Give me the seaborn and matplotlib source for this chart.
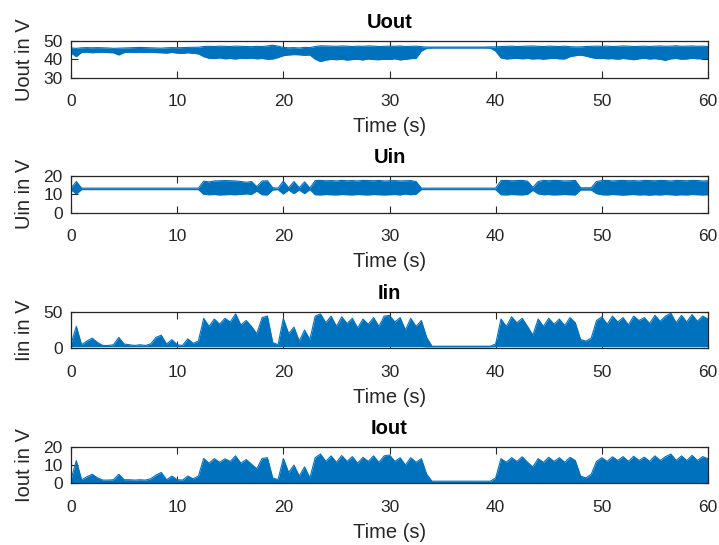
import numpy as np
import pandas as pd
import matplotlib
matplotlib.use("Agg")
import matplotlib.pyplot as plt
import seaborn as sns

# time grid (s), one reading every 0.5 s
time_s = [i * 0.5 for i in range(121)]

# Uout envelope (V)
uout_hi = [46.2,46.0,46.3,46.4,46.3,46.4,46.3,46.2,46.0,46.1,
           46.2,46.3,46.4,46.5,46.4,46.3,46.2,46.1,46.3,46.4,
           46.3,46.4,46.5,46.6,46.6,47.0,47.1,47.0,47.2,47.1,
           47.0,47.2,47.1,47.0,46.9,47.1,47.0,47.3,47.7,47.2,
           46.5,46.3,46.4,46.2,46.5,46.4,47.0,47.4,47.3,47.2,
           47.1,47.3,47.2,47.0,47.2,47.1,47.3,47.2,47.0,47.1,
           47.2,47.1,47.3,47.0,47.1,47.2,46.9,46.7,46.7,46.7,
           46.7,46.7,46.7,46.7,46.7,46.7,46.7,46.7,46.7,46.8,
           46.8,47.0,47.1,47.2,47.0,47.1,47.2,47.3,47.1,47.0,
           47.2,47.1,47.0,47.2,46.9,46.8,46.8,47.0,47.1,47.2,
           47.1,47.2,47.0,47.1,47.3,47.2,47.0,47.1,47.2,47.0,
           47.2,47.3,47.1,47.2,47.4,47.1,47.2,47.3,47.1,47.2,
           47.0]
uout_lo = [43.5,41.5,43.8,43.9,43.6,43.8,43.9,43.7,43.6,42.4,
           43.7,43.9,43.8,43.9,43.8,43.9,43.7,43.6,43.4,43.8,
           43.4,43.2,43.6,43.3,43.0,41.5,40.6,40.4,40.8,40.3,
           40.5,40.2,40.6,40.4,40.7,40.3,40.5,40.1,40.2,41.0,
           42.0,42.4,42.6,42.5,42.2,42.4,40.1,38.8,39.6,40.0,
           39.8,40.1,39.6,39.9,40.0,39.7,40.2,39.9,39.8,40.1,
           39.9,40.3,39.7,40.0,40.4,40.5,44.5,46.0,46.2,46.2,
           46.2,46.2,46.2,46.2,46.2,46.2,46.2,46.2,46.2,46.1,
           44.5,40.8,40.2,40.4,40.6,40.3,40.5,40.2,40.4,40.1,
           40.4,40.6,40.3,40.2,41.5,42.0,42.3,41.8,41.0,40.5,
           40.6,40.3,40.4,40.1,40.5,40.2,39.8,40.3,40.6,40.2,
           40.4,40.0,39.5,40.3,40.5,40.1,40.2,40.6,40.3,40.4,
           40.5]

# Uin envelope (V)
uin_hi = [13.4,17.0,13.4,13.4,13.4,13.4,13.4,13.4,13.4,13.4,
          13.4,13.4,13.4,13.4,13.4,13.4,13.4,13.4,13.4,13.4,
          13.4,13.4,13.4,13.4,13.4,17.2,16.8,17.3,17.4,17.5,
          17.4,17.3,17.0,16.6,17.0,14.2,17.3,17.4,13.6,13.4,
          17.2,13.6,17.0,13.6,16.8,13.4,17.5,17.6,17.4,17.5,
          17.3,17.6,17.4,17.5,17.3,17.6,17.5,17.4,17.6,17.3,
          17.4,17.5,17.3,17.4,17.5,17.0,13.4,13.4,13.4,13.4,
          13.4,13.4,13.4,13.4,13.4,13.4,13.4,13.4,13.4,13.4,
          13.4,17.5,17.6,17.4,17.5,17.6,17.2,13.8,17.0,17.6,
          17.4,17.6,17.5,17.3,17.4,17.6,13.6,13.6,13.6,17.0,
          17.5,17.6,17.3,17.5,17.6,17.4,17.5,17.3,17.6,17.5,
          17.4,17.6,17.5,17.3,17.6,17.5,17.4,17.6,17.5,17.3,
          17.4]
uin_lo = [12.6,10.2,12.6,12.6,12.6,12.6,12.6,12.6,12.6,12.6,
          12.6,12.6,12.6,12.6,12.6,12.6,12.6,12.6,12.6,12.6,
          12.6,12.6,12.6,12.6,12.6,10.0,9.8,9.9,9.7,9.8,
          9.9,9.8,10.0,10.3,10.0,11.8,9.8,9.7,12.4,12.6,
          10.2,12.4,10.4,12.4,10.4,12.6,9.8,9.7,9.9,9.8,
          9.7,9.9,9.8,9.7,9.9,9.8,9.7,9.9,9.8,9.7,
          9.8,9.9,9.7,10.2,9.8,10.1,12.6,12.6,12.6,12.6,
          12.6,12.6,12.6,12.6,12.6,12.6,12.6,12.6,12.6,12.6,
          12.6,9.8,9.7,9.9,9.8,9.7,10.0,12.2,10.3,9.8,
          9.9,9.7,9.8,9.9,9.8,9.7,12.4,12.4,12.4,10.4,
          9.8,9.7,9.9,9.8,9.6,9.8,9.9,9.7,9.8,9.6,
          9.8,9.7,9.9,9.8,9.6,9.8,9.7,9.9,9.8,9.7,
          9.8]

# Iin envelope
iin_hi = [6,30,5,10,14,8,4,4,5,15,
          6,5,4,5,4,6,15,18,6,12,
          5,4,13,7,10,41,30,40,33,41,
          36,47,32,38,30,20,42,44,8,5,
          41,20,29,10,25,12,44,47,35,44,
          30,43,34,41,28,40,33,42,30,44,
          45,36,42,25,41,30,38,15,3,3,
          3,3,3,3,3,3,3,3,3,3,
          6,40,30,43,35,41,30,18,40,30,
          41,33,40,31,42,35,12,10,14,38,
          43,33,44,36,42,32,44,38,42,34,
          45,37,44,48,35,45,36,46,37,44,
          40]
iin_lo = [2.5]*67 + [2.2]*13 + [2.5]*41

# Iout envelope
iout_hi = [2,12.4,2,3.6,5,3,1.8,1.8,2,5,
           2,2,1.8,2,1.8,2.5,4.5,6,2,4,
           2,1.8,4,2.5,4,13.6,11,13.5,11.5,13.4,
           12,15,11,13,10.5,8,13.6,14,3,2,
           13.6,6,10,4,9,3,14,16,12,15,
           11.5,15.2,12,14.6,11,14.2,12,15,11.5,15,
           15.5,12,14,10,14,11.5,13.5,5,1.2,1.2,
           1.2,1.2,1.2,1.2,1.2,1.2,1.2,1.2,1.2,1.2,
           3,13.5,11.5,14,12,14.5,11.5,9,13.5,11.5,
           14.2,12,14,11.5,14.2,12.5,4,3,5,12,
           14,12,14.5,12.5,14.6,12,14.8,12.5,14.3,12,
           15,12.5,14.6,16,12.5,15,12.5,15.3,12.5,14.6,
           13.5]
iout_lo = [0.8]*121

titles = ["Uout", "Uin", "Iin", "Iout"]
ylabels = ["Uout in V", "Uin in V", "Iin in V", "Iout in V"]
ylims = [(30, 50), (0, 20), (0, 50), (0, 20)]
yticks = [[30, 40, 50], [0, 10, 20], [0, 50], [0, 10, 20]]
xticks = [0, 10, 20, 30, 40, 50, 60]
xlabel = "Time (s)"

series = [(uout_lo, uout_hi), (uin_lo, uin_hi), (iin_lo, iin_hi), (iout_lo, iout_hi)]

sns.set_theme(style="white")
plt.rcParams['font.family'] = ['Liberation Sans', 'DejaVu Sans']

blue = '#0072BD'
dark = '#262626'
fig = plt.figure(figsize=(7.19, 5.45), dpi=100)
left, width, height = 71/719, 637/719, 36.7/545
tops = [41, 176, 311.7, 446.7]

for k in range(4):
    bottom = 1 - (tops[k] + 36.7) / 545
    ax = fig.add_axes([left, bottom, width, height])
    lo, hi = series[k]
    df = pd.DataFrame({"t": time_s, "lo": lo, "hi": hi})
    ax.fill_between(df["t"], df["lo"], df["hi"], color=blue, lw=0)
    sns.lineplot(data=df, x="t", y="hi", ax=ax, color=blue, lw=0.8, estimator=None)
    sns.lineplot(data=df, x="t", y="lo", ax=ax, color=blue, lw=0.8, estimator=None)
    ax.set_xlim(0, 60)
    ax.set_ylim(*ylims[k])
    ax.set_xticks(xticks)
    ax.set_yticks(yticks[k])
    ax.tick_params(direction='in', length=5, width=0.8, colors=dark,
                   labelsize=12.5, top=True, right=True, bottom=True, left=True)
    ax.tick_params(axis='x', pad=12)
    ax.tick_params(axis='y', pad=6)
    ax.set_xlabel(xlabel, fontsize=14.5, color=dark, labelpad=5.5)
    ax.set_ylabel(ylabels[k], fontsize=14.5, color=dark, labelpad=7)
    ax.set_title(titles[k], fontsize=14.5, fontweight='bold', color='black', pad=9)
    for s in ax.spines.values():
        s.set_visible(True)
        s.set_color(dark)
        s.set_linewidth(0.9)

fig.savefig("out.png", dpi=100)
